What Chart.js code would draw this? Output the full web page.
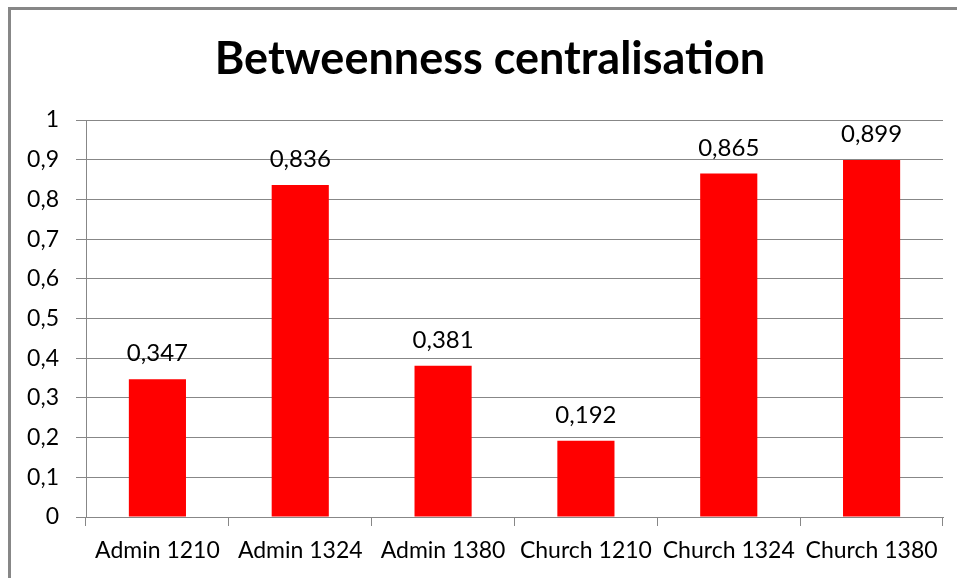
<!DOCTYPE html>
<html>
<head>
<meta charset="utf-8">
<script src="https://cdn.jsdelivr.net/npm/chart.js@4"></script>
<style>
  html, body { margin:0; padding:0; background:#fff; overflow:hidden; }
  #frame { position:absolute; left:8px; top:7px; width:1000px; height:700px; border-left:3px solid #878787; border-top:3px solid #878787; }
  #chart { position:absolute; left:0; top:0; }
</style>
</head>
<body>
<div id="frame"></div>
<canvas id="chart" width="957" height="578"></canvas>
<script>
const categories = ['Admin 1210', 'Admin 1324', 'Admin 1380', 'Church 1210', 'Church 1324', 'Church 1380'];
const values = [0.347, 0.836, 0.381, 0.192, 0.865, 0.899];
const yTicks = [0, 0.1, 0.2, 0.3, 0.4, 0.5, 0.6, 0.7, 0.8, 0.9, 1];
const titleText = 'Betweenness centralisation';

const FONT = 'Lato, "Open Sans", sans-serif';
const GRID = '#878787';

const comma = v => String(v).replace('.', ',');
const fmtTick = v => (Number.isInteger(v) ? String(v) : comma(v.toFixed(1)));

// labels above each bar, taken from the bar elements' positions
const barLabels = {
  id: 'barLabels',
  afterDatasetsDraw(chart){
    const ctx = chart.ctx;
    const meta = chart.getDatasetMeta(0);
    ctx.save();
    ctx.font = '24px ' + FONT;
    ctx.fillStyle = '#000';
    ctx.textAlign = 'center';
    ctx.textBaseline = 'alphabetic';
    meta.data.forEach((bar, i) => {
      ctx.fillText(comma(values[i].toFixed(3)), bar.x, bar.y - 18);
    });
    ctx.restore();
  }
};

// title is centred on the framed box, not on the canvas
const chartTitle = {
  id: 'chartTitle',
  afterDraw(chart){
    const ctx = chart.ctx;
    ctx.save();
    ctx.font = 'bold 45px ' + FONT;
    ctx.fillStyle = '#000';
    ctx.textAlign = 'center';
    ctx.textBaseline = 'middle';
    ctx.fillText(titleText, 490, 59);
    ctx.restore();
  }
};

new Chart(document.getElementById('chart'), {
  type: 'bar',
  data: {
    labels: categories,
    datasets: [{
      data: values,
      backgroundColor: '#ff0000',
      borderWidth: 0,
      categoryPercentage: 1,
      barPercentage: 0.4
    }]
  },
  options: {
    responsive: false,
    animation: false,
    layout: { padding: { left: 0, right: 14, top: 120, bottom: 0 } },
    plugins: {
      legend: { display: false },
      tooltip: { enabled: false },
      title: { display: false }
    },
    scales: {
      x: {
        grid: { drawOnChartArea: false, drawTicks: true, tickLength: 9, color: GRID, offset: true },
        border: { display: true, color: GRID, width: 1 },
        ticks: { color: '#000', font: { family: FONT, size: 23 }, padding: 11, maxRotation: 0, autoSkip: false },
        afterFit: s => { s.height = 61; }
      },
      y: {
        min: 0,
        max: 1,
        afterBuildTicks: s => { s.ticks = yTicks.map(v => ({ value: v })); },
        grid: { color: GRID, lineWidth: 1, tickLength: 10, drawTicks: true },
        border: { display: true, color: GRID, width: 1 },
        ticks: { color: '#000', font: { family: FONT, size: 23 }, padding: 17, callback: v => fmtTick(v) },
        afterFit: s => { s.width = 86; }
      }
    }
  },
  plugins: [barLabels, chartTitle]
});
</script>
</body>
</html>
